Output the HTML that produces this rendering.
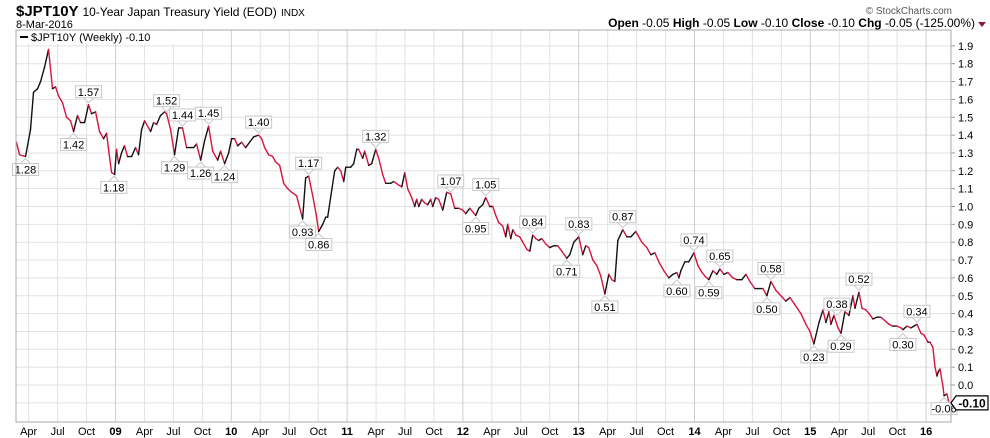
<!DOCTYPE html>
<html><head><meta charset="utf-8">
<style>
body{margin:0;background:#fff;font-family:"Liberation Sans",sans-serif;}
#wrap{position:relative;width:990px;height:438px;overflow:hidden;}
svg text{font-family:"Liberation Sans",sans-serif;}
</style></head>
<body>
<div id="wrap">
<svg id="chart" width="990" height="438">
  <text x="16" y="16" font-size="15" font-weight="bold" fill="#000">$JPT10Y <tspan font-size="12" font-weight="normal">10-Year Japan Treasury Yield (EOD)</tspan> <tspan font-size="10" font-weight="normal">INDX</tspan></text>
  <text x="16" y="28" font-size="11" fill="#000">8-Mar-2016</text>
  <text x="952" y="14" font-size="10" fill="#555" text-anchor="end">© StockCharts.com</text>
  <text x="975" y="27" font-size="12" fill="#000" text-anchor="end"><tspan font-weight="bold">Open</tspan> -0.05  <tspan font-weight="bold">High</tspan> -0.05  <tspan font-weight="bold">Low</tspan> -0.10  <tspan font-weight="bold">Close</tspan> -0.10  <tspan font-weight="bold">Chg</tspan> -0.05 (-125.00%)</text>
  <path d="M978 22 L986 22 L982 27 Z" fill="#8b1a3a"/>
  <g id="grid"></g>
  <g id="series"></g>
  <g id="annots"></g>
  <g id="axes"></g>
</svg>
</div>
<script>
const dates=[2008.145,2008.171,2008.223,2008.266,2008.292,2008.327,2008.353,2008.387,2008.422,2008.456,2008.482,2008.508,2008.543,2008.577,2008.612,2008.638,2008.672,2008.698,2008.733,2008.767,2008.793,2008.828,2008.862,2008.897,2008.923,2008.940,2008.966,2008.992,
2009.009,2009.027,2009.052,2009.078,2009.104,2009.139,2009.173,2009.199,2009.225,2009.251,2009.303,2009.329,2009.355,2009.389,2009.424,2009.441,2009.476,2009.510,2009.545,2009.579,2009.614,2009.649,2009.675,2009.700,2009.735,2009.770,2009.804,2009.839,2009.882,2009.908,2009.942,2009.977,
2010.003,2010.029,2010.055,2010.089,2010.124,2010.158,2010.193,2010.236,2010.262,2010.288,2010.323,2010.357,2010.383,2010.418,2010.452,2010.487,2010.521,2010.564,2010.616,2010.642,2010.668,2010.703,2010.729,2010.755,2010.789,2010.815,2010.832,2010.867,2010.893,2010.919,2010.945,2010.971,2010.988,
2011.031,2011.057,2011.083,2011.100,2011.135,2011.152,2011.187,2011.212,2011.247,2011.273,2011.307,2011.333,2011.377,2011.403,2011.446,2011.472,2011.498,2011.523,2011.558,2011.584,2011.601,2011.619,2011.644,2011.670,2011.696,2011.722,2011.739,2011.765,2011.791,2011.826,2011.860,2011.895,2011.930,2011.964,2011.999,
2012.025,2012.059,2012.085,2012.111,2012.137,2012.171,2012.197,2012.232,2012.258,2012.284,2012.310,2012.344,2012.370,2012.387,2012.413,2012.431,2012.457,2012.491,2012.517,2012.552,2012.578,2012.603,2012.629,2012.655,2012.681,2012.716,2012.750,2012.785,2012.819,2012.854,2012.897,2012.923,2012.958,
2013.001,2013.035,2013.061,2013.087,2013.122,2013.156,2013.191,2013.226,2013.260,2013.286,2013.312,2013.338,2013.381,2013.416,2013.450,2013.493,2013.545,2013.588,2013.623,2013.658,2013.692,2013.735,2013.779,2013.813,2013.848,2013.865,2013.882,2013.917,2013.951,2013.995,
2014.029,2014.055,2014.090,2014.124,2014.159,2014.193,2014.219,2014.254,2014.288,2014.331,2014.366,2014.409,2014.444,2014.478,2014.522,2014.556,2014.591,2014.625,2014.660,2014.703,2014.746,2014.789,2014.824,2014.867,2014.919,2014.962,2014.997,
2015.031,2015.075,2015.109,2015.135,2015.161,2015.178,2015.204,2015.239,2015.265,2015.299,2015.334,2015.368,2015.386,2015.420,2015.446,2015.481,2015.507,2015.541,2015.576,2015.610,2015.645,2015.679,2015.714,2015.748,2015.783,2015.800,2015.835,2015.869,2015.895,2015.921,2015.956,2015.982,
2016.016,2016.034,2016.059,2016.077,2016.094,2016.103,2016.120,2016.146,2016.155,2016.180,2016.198];
const yields=[1.36,1.29,1.28,1.43,1.64,1.66,1.70,1.78,1.88,1.66,1.67,1.62,1.58,1.50,1.48,1.42,1.51,1.47,1.47,1.57,1.52,1.53,1.42,1.38,1.41,1.32,1.19,1.18,
1.32,1.24,1.30,1.34,1.28,1.28,1.33,1.29,1.43,1.48,1.42,1.47,1.46,1.51,1.53,1.52,1.43,1.29,1.44,1.44,1.33,1.33,1.33,1.35,1.26,1.37,1.45,1.31,1.26,1.31,1.24,1.30,
1.38,1.38,1.34,1.36,1.33,1.36,1.39,1.40,1.38,1.33,1.29,1.28,1.25,1.23,1.13,1.10,1.08,1.06,0.93,1.16,1.17,1.06,0.97,0.86,0.90,0.94,0.94,1.09,1.20,1.22,1.20,1.14,1.22,
1.22,1.24,1.32,1.32,1.27,1.31,1.23,1.24,1.32,1.27,1.18,1.13,1.13,1.14,1.12,1.11,1.19,1.10,1.05,1.00,1.04,1.00,1.04,1.02,1.01,1.04,1.00,1.05,1.04,0.98,1.08,1.07,0.99,0.99,0.98,
0.96,0.99,0.97,0.95,0.99,1.01,1.05,1.00,1.00,0.95,0.91,0.89,0.83,0.90,0.82,0.87,0.84,0.83,0.80,0.76,0.75,0.84,0.82,0.81,0.82,0.79,0.77,0.78,0.78,0.75,0.71,0.73,0.80,
0.83,0.73,0.78,0.77,0.70,0.67,0.61,0.51,0.62,0.59,0.58,0.81,0.87,0.83,0.83,0.86,0.80,0.77,0.73,0.74,0.69,0.64,0.60,0.62,0.63,0.60,0.64,0.69,0.69,0.74,
0.67,0.64,0.61,0.59,0.64,0.62,0.65,0.62,0.63,0.60,0.59,0.59,0.62,0.58,0.54,0.54,0.54,0.50,0.58,0.53,0.50,0.47,0.49,0.45,0.40,0.34,0.30,
0.23,0.35,0.42,0.35,0.41,0.34,0.39,0.32,0.29,0.41,0.39,0.50,0.43,0.52,0.43,0.42,0.40,0.37,0.38,0.38,0.36,0.34,0.33,0.33,0.32,0.31,0.33,0.32,0.33,0.34,0.29,0.28,
0.24,0.24,0.21,0.10,0.05,0.07,0.09,-0.01,-0.06,-0.05,-0.10];
const annotDates=[2008.223,2008.767,2008.638,2008.985,2009.441,2009.510,2009.579,2009.735,2009.804,2009.942,2010.236,2010.668,2010.616,2010.755,2011.247,2011.895,2012.197,2012.111,2012.603,2013.001,2012.897,2013.381,2013.226,2013.995,2013.848,2014.219,2014.124,2014.660,2014.625,2015.420,2015.230,2015.031,2015.265,2015.921,2015.800,2016.155];
const annotValues=[1.28,1.57,1.42,1.18,1.52,1.29,1.44,1.26,1.45,1.24,1.40,1.17,0.93,0.86,1.32,1.07,1.05,0.95,0.84,0.83,0.71,0.87,0.51,0.74,0.60,0.65,0.59,0.58,0.50,0.52,0.38,0.23,0.29,0.34,0.30,-0.06];
const annotAbove=[0,1,0,0,1,0,1,0,1,0,1,1,0,0,1,1,1,0,1,1,0,1,0,1,0,1,0,1,0,1,1,0,0,1,0,0];
const yTicks=[-0.1,0.0,0.1,0.2,0.3,0.4,0.5,0.6,0.7,0.8,0.9,1.0,1.1,1.2,1.3,1.4,1.5,1.6,1.7,1.8,1.9];
const xTickLabels=["Apr","Jul","Oct","09","Apr","Jul","Oct","10","Apr","Jul","Oct","11","Apr","Jul","Oct","12","Apr","Jul","Oct","13","Apr","Jul","Oct","14","Apr","Jul","Oct","15","Apr","Jul","Oct","16"];
const xTickDates=[2008.25,2008.5,2008.75,2009,2009.25,2009.5,2009.75,2010,2010.25,2010.5,2010.75,2011,2011.25,2011.5,2011.75,2012,2012.25,2012.5,2012.75,2013,2013.25,2013.5,2013.75,2014,2014.25,2014.5,2014.75,2015,2015.25,2015.5,2015.75,2016];
const lastValue=-0.10;

const NS="http://www.w3.org/2000/svg";
const L=16,R=951,T=30,B=422;
function xs(t){return 115.5+(t-2009)*115.8;}
function ys(v){return 385-v*178.5;}
function mk(tag,attrs,parent){const e=document.createElementNS(NS,tag);for(const k in attrs)e.setAttribute(k,attrs[k]);parent.appendChild(e);return e;}
const grid=document.getElementById('grid'),series=document.getElementById('series'),annots=document.getElementById('annots'),axes=document.getElementById('axes');

yTicks.forEach(v=>{
  const y=ys(v);
  const ln=mk('line',{x1:L,x2:R,y1:y,y2:y,stroke:'#e2e2e2','stroke-width':1},grid);
  
  
  const tk=mk('line',{x1:R,x2:R+4,y1:y,y2:y,stroke:'#999'},axes);
  
  
  const tx=mk('text',{x:R+7,y:y+4,'font-size':11,fill:'#000'},axes);
  tx.textContent=v.toFixed(1);
  
  
});
xTickDates.forEach((t,i)=>{
  const x=xs(t);const yr=/^\d\d$/.test(xTickLabels[i]);
  const ln=mk('line',{x1:x,x2:x,y1:T,y2:B,stroke:yr?'#cfcfcf':'#e2e2e2','stroke-width':1},grid);
  
  
  const tx=mk('text',{x:x,y:435,'font-size':11,'text-anchor':'middle',fill:'#000','font-weight':yr?'bold':'normal'},axes);
  tx.textContent=xTickLabels[i];
  
  
});
const frame=mk('rect',{x:L,y:T,width:R-L,height:B-T,fill:'none',stroke:'#aaa','stroke-width':1},axes);



for(let i=1;i<yields.length;i++){
  const up=yields[i]>=yields[i-1];
  const s=mk('line',{x1:xs(dates[i-1]),y1:ys(yields[i-1]),x2:xs(dates[i]),y2:ys(yields[i]),stroke:up?'#111':'#d9123f','stroke-width':1.4,'stroke-linecap':'round'},series);
  
  
}

annotValues.forEach((v,i)=>{
  const x=xs(annotDates[i]),y=ys(v),up=annotAbove[i]===1;
  const g=mk('g',{},annots);
  
  
  const by=up?y-19:y+7;
  const tip=up?y-2:y+2, base=up?by+12:by;
  mk('path',{d:`M${x-5} ${base} L${x} ${tip} L${x+5} ${base}`,fill:'#fff',stroke:'#c8c8c8'},g);
  mk('rect',{x:x-13,y:by,width:26,height:12,fill:'#fff',stroke:'#c8c8c8'},g);
  const t=mk('text',{x:x,y:by+10,'font-size':11,'text-anchor':'middle',fill:'#000'},g);
  t.textContent=v.toFixed(2);
});

const lg=mk('g',{},axes);


mk('rect',{x:L+1,y:T+1,width:158,height:13,fill:'#fff'},lg);
mk('line',{x1:20,x2:28,y1:T+7,y2:T+7,stroke:'#000','stroke-width':2},lg);
const lt=mk('text',{x:31,y:T+11,'font-size':11,fill:'#000','font-family':'Liberation Mono, monospace'},lg);
lt.textContent='$JPT10Y (Weekly) -0.10';

const ly=ys(lastValue);
const lv=mk('g',{},axes);


mk('path',{d:`M${R} ${ly} L${R+5} ${ly-7} L${R+37} ${ly-7} L${R+37} ${ly+7} L${R+5} ${ly+7} Z`,fill:'#fff',stroke:'#000','stroke-width':1.2},lv);
const lvt=mk('text',{x:R+21,y:ly+4.5,'font-size':12,'font-weight':'bold','text-anchor':'middle',fill:'#000'},lv);
lvt.textContent=lastValue.toFixed(2);
</script>
</body></html>
